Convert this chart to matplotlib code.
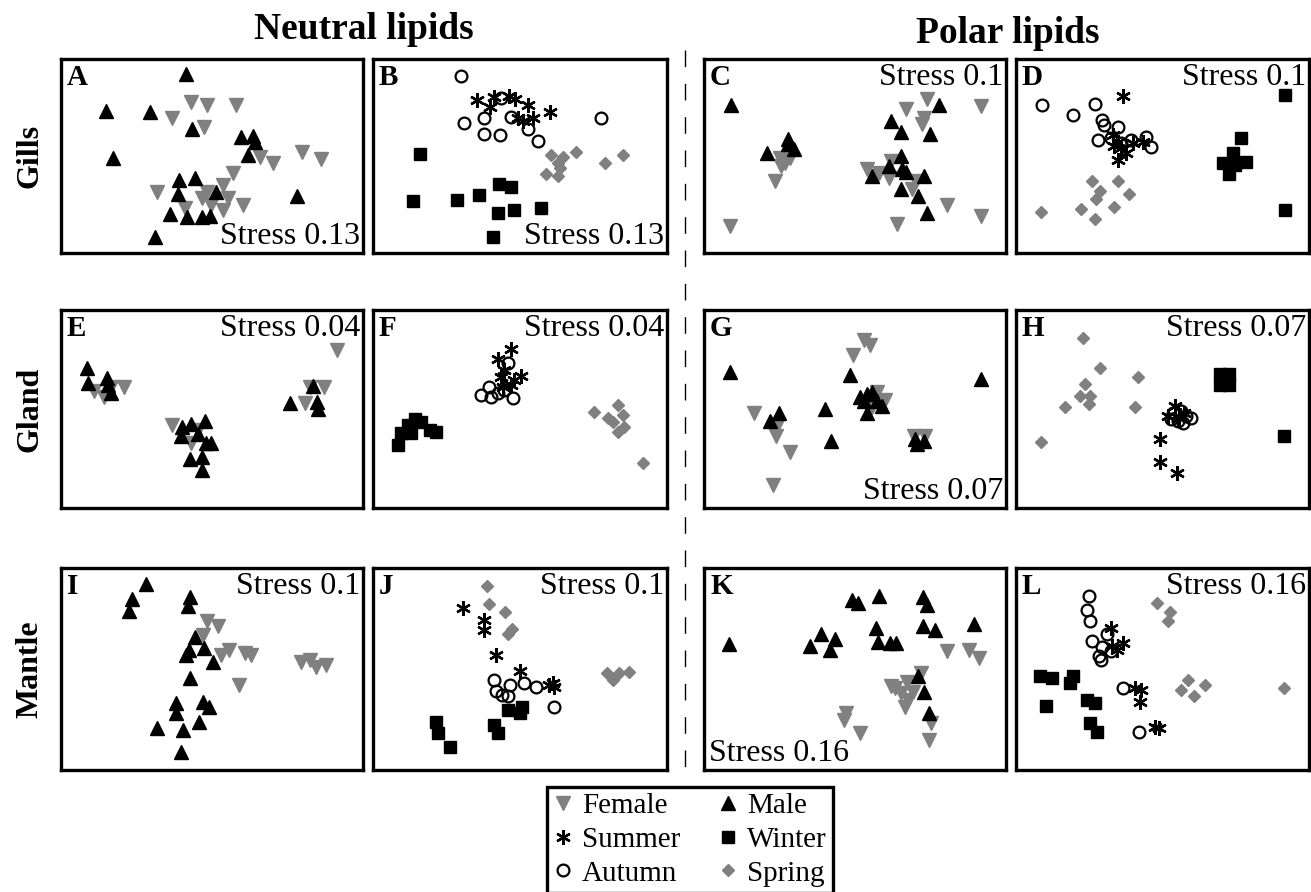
import matplotlib.pyplot as plt
from matplotlib.lines import Line2D

# NMDS scores, arbitrary units (0-100 across each panel)
A_female = [(42.9, 78.0), (48.5, 76.3), (58.0, 76.3), (36.7, 69.5), (47.4, 65.2), (65.8, 49.7),
            (70.3, 46.3), (79.8, 52.3), (86.0, 48.5), (56.9, 41.2), (53.5, 35.2), (31.7, 31.7),
            (48.5, 31.7), (46.8, 28.3), (55.2, 28.3), (49.6, 24.9), (60.2, 24.9), (41.2, 23.2), (53.5, 22.3)]
A_male = [(41.4, 92.1), (14.9, 73.2), (29.5, 72.9), (43.4, 64.0), (59.5, 60.0), (63.6, 60.4),
          (64.4, 57.1), (61.9, 50.6), (17.1, 48.9), (39.0, 37.7), (44.3, 38.6), (38.7, 30.4),
          (51.3, 31.7), (36.2, 20.1), (41.8, 18.4), (46.6, 18.4), (49.3, 18.9), (78.2, 29.5), (31.1, 8.1)]

B_summer = [(35.3, 78.9), (41.0, 80.6), (39.9, 75.5), (46.1, 81.1), (48.3, 79.4), (52.7, 76.3),
            (49.3, 69.5), (51.0, 67.8), (54.4, 69.5), (60.1, 72.9)]
B_autumn = [(30.1, 91.4), (30.8, 66.9), (37.9, 69.5), (37.9, 61.4), (43.3, 60.9), (43.6, 79.8),
            (47.0, 70.3), (52.7, 64.0), (56.1, 57.8), (77.5, 69.5)]
B_winter = [(16.0, 50.9), (13.7, 26.6), (28.5, 27.4), (36.1, 29.7), (42.8, 35.5), (46.8, 33.8),
            (42.4, 20.6), (47.9, 22.3), (57.2, 23.2), (40.7, 8.1)]
B_spring = [(60.7, 50.6), (64.7, 49.7), (68.9, 52.3), (62.9, 46.3), (59.0, 40.7), (62.9, 39.5),
            (63.5, 43.7), (78.9, 46.3), (85.2, 50.6)]

C_female = [(73.8, 79.3), (66.8, 74.1), (72.9, 69.8), (72.3, 66.4), (91.7, 75.9), (25.2, 49.1),
            (26.9, 46.6), (25.5, 44.8), (23.6, 37.1), (28.6, 49.1), (54.0, 43.1), (57.9, 41.4),
            (61.2, 38.8), (61.8, 47.4), (70.1, 37.1), (69.0, 32.8), (80.6, 25.0), (91.7, 19.0),
            (64.0, 14.7), (8.6, 13.8)]
C_male = [(8.9, 76.4), (21.0, 51.7), (27.7, 58.6), (27.7, 56.0), (29.7, 53.4), (61.8, 68.1),
          (65.3, 62.6), (77.9, 76.4), (74.9, 61.2), (65.1, 50.0), (61.2, 44.8), (55.7, 39.7),
          (65.7, 43.1), (66.8, 41.9), (72.9, 39.7), (65.1, 32.8), (70.7, 29.3), (73.8, 20.7)]

D_summer = [(36.4, 80.9), (33.0, 60.9), (34.7, 57.0), (35.9, 53.9), (37.6, 51.3), (34.7, 47.8),
            (39.9, 56.5), (43.3, 57.0), (33.6, 55.3)]
D_autumn = [(8.9, 76.5), (19.4, 71.3), (26.8, 76.9), (29.4, 68.7), (30.2, 66.1), (34.7, 65.2),
            (27.9, 58.3), (32.5, 59.1), (39.3, 58.3), (44.4, 60.0), (46.1, 54.8), (35.9, 56.5)]
D_winter = [(91.7, 81.4), (76.9, 59.1), (74.0, 51.3), (70.8, 46.6), (72.7, 40.9), (78.6, 47.0),
            (74.6, 45.2), (91.7, 22.3)]
D_spring = [(26.0, 36.9), (34.7, 36.9), (28.5, 32.2), (38.5, 30.4), (27.3, 27.8), (22.2, 22.6),
            (33.6, 23.5), (26.8, 17.7), (8.5, 21.2)]

E_female = [(91.4, 79.8), (20.9, 61.3), (10.8, 59.3), (14.1, 55.9), (82.6, 60.9), (87.0, 60.9),
            (80.9, 53.2), (36.6, 41.9), (43.0, 32.7), (45.2, 39.4), (16.5, 61.3)]
E_male = [(8.6, 70.5), (8.8, 63.0), (15.2, 65.5), (16.7, 58.2), (15.4, 62.1), (83.5, 61.6),
          (75.8, 52.9), (84.8, 53.7), (85.0, 49.8), (40.2, 41.1), (43.0, 42.4), (47.6, 44.1),
          (45.2, 37.4), (49.6, 32.7), (39.6, 36.4), (42.7, 24.6), (46.7, 25.6), (46.7, 19.2), (48.0, 32.8)]

F_summer = [(47.0, 80.1), (42.5, 75.1), (44.7, 69.7), (50.2, 66.7), (43.6, 66.3), (48.1, 64.6),
            (47.0, 62.1), (44.2, 61.3)]
F_autumn = [(45.9, 73.1), (36.8, 57.1), (39.6, 61.3), (42.5, 57.9), (47.6, 55.4), (40.2, 56.2), (44.7, 59.6)]
F_winter = [(8.5, 31.8), (9.6, 37.7), (11.9, 41.9), (14.2, 44.8), (16.4, 43.6), (19.3, 39.4),
            (21.5, 38.6), (13.0, 37.7)]
F_spring = [(75.1, 48.7), (83.2, 52.0), (84.9, 47.0), (81.5, 43.6), (85.5, 41.1), (83.2, 38.6),
            (79.8, 45.3), (91.7, 22.6)]

G_female = [(52.9, 84.7), (55.1, 82.5), (49.3, 77.4), (57.3, 58.4), (60.0, 54.7), (55.6, 50.8),
            (16.5, 48.2), (24.4, 42.3), (24.0, 36.3), (28.4, 28.2), (22.7, 11.7), (69.6, 36.3), (73.2, 36.3)]
G_male = [(8.6, 68.9), (48.5, 67.2), (91.6, 65.2), (51.8, 55.9), (54.0, 57.6), (55.6, 58.4),
          (57.3, 54.2), (58.9, 51.6), (52.9, 54.2), (54.0, 48.2), (40.2, 49.9), (24.8, 48.2),
          (21.8, 44.0), (41.9, 33.8), (69.9, 34.6), (72.7, 33.8), (70.5, 32.1)]

H_summer = [(54.1, 51.6), (51.8, 46.5), (55.8, 45.7), (57.5, 48.2), (49.3, 34.6), (49.3, 23.4), (54.8, 17.8)]
H_autumn = [(53.5, 48.2), (56.3, 49.1), (58.0, 46.5), (59.8, 45.7), (55.2, 44.0), (56.9, 42.8), (52.9, 44.8)]
H_winter = [(69.5, 67.5), (72.7, 67.5), (69.5, 62.0), (72.7, 62.0), (71.1, 64.9), (91.5, 36.2)]
H_spring = [(22.9, 85.9), (28.8, 70.6), (41.6, 66.0), (23.5, 62.6), (21.8, 56.7), (24.8, 52.5),
            (25.2, 56.7), (16.7, 50.9), (40.5, 50.9), (8.5, 33.1)]

I_female = [(48.3, 73.6), (51.9, 71.1), (47.0, 66.9), (55.7, 59.5), (53.0, 57.0), (61.0, 57.9),
            (63.0, 57.0), (59.0, 42.1), (79.6, 53.7), (82.3, 54.5), (87.6, 52.1), (84.3, 51.2)]
I_male = [(28.0, 92.2), (23.4, 84.6), (22.4, 78.5), (42.7, 85.6), (42.1, 81.0), (44.3, 65.8),
          (42.3, 59.5), (47.4, 60.3), (41.3, 57.0), (50.3, 53.7), (42.6, 45.5), (38.1, 33.1),
          (38.1, 28.1), (47.0, 33.9), (49.0, 31.4), (31.7, 20.7), (40.3, 19.8), (45.7, 24.0), (39.7, 9.1)]

J_summer = [(30.7, 80.2), (37.8, 74.4), (37.6, 69.4), (41.9, 57.0), (50.1, 48.8), (61.1, 43.3),
            (61.7, 41.3), (59.7, 42.1)]
J_autumn = [(41.3, 44.6), (46.7, 42.1), (51.5, 43.3), (55.6, 41.3), (44.0, 37.2), (46.0, 36.4),
            (61.7, 31.1), (41.9, 39.3)]
J_winter = [(21.4, 24.0), (22.1, 18.2), (26.2, 11.6), (41.3, 22.3), (42.6, 18.2), (46.0, 29.8),
            (50.1, 28.1), (50.8, 31.4)]
J_spring = [(38.9, 91.2), (39.5, 82.3), (44.9, 78.0), (47.4, 69.8), (46.0, 67.4), (79.5, 47.9),
            (83.6, 47.9), (87.0, 48.3), (81.6, 44.6)]

K_female = [(80.3, 58.7), (87.6, 59.5), (91.0, 55.4), (71.7, 47.9), (67.1, 43.8), (63.1, 40.5),
            (65.1, 38.0), (67.7, 34.7), (66.4, 31.4), (46.9, 28.1), (46.5, 24.8), (51.8, 18.2),
            (75.0, 23.1), (74.4, 14.9), (61.8, 41.7), (69.1, 38.8)]
K_male = [(8.4, 62.5), (49.1, 84.0), (50.9, 82.6), (57.8, 86.3), (72.4, 85.6), (73.7, 81.8),
          (38.9, 67.4), (43.4, 64.8), (35.2, 61.2), (41.8, 59.5), (57.1, 70.2), (57.5, 63.6),
          (61.5, 62.8), (63.7, 63.1), (72.6, 71.4), (76.6, 69.4), (89.4, 72.4), (71.0, 46.3),
          (73.0, 38.8), (74.4, 28.1)]

L_summer = [(32.3, 70.2), (36.5, 62.8), (34.4, 59.5), (32.6, 61.5), (40.6, 40.5), (42.6, 39.7),
            (42.2, 33.9), (48.8, 20.7), (47.5, 21.5)]
L_autumn = [(24.8, 86.3), (24.3, 79.0), (25.4, 74.0), (30.9, 67.4), (26.1, 64.1), (29.3, 60.8),
            (28.2, 56.2), (28.9, 54.5), (32.3, 58.7), (36.5, 40.5), (42.0, 19.0)]
L_winter = [(8.3, 46.6), (12.4, 45.5), (19.3, 46.3), (18.6, 43.0), (10.3, 31.7), (24.1, 34.7),
            (26.8, 33.1), (25.4, 23.1), (27.5, 19.0)]
L_spring = [(48.1, 82.6), (52.7, 78.0), (51.9, 74.0), (58.7, 44.6), (64.6, 42.1), (56.4, 39.7),
            (60.9, 36.7), (91.5, 40.8)]

panel_letters = ['A', 'B', 'C', 'D', 'E', 'F', 'G', 'H', 'I', 'J', 'K', 'L']
stress_labels = ['Stress 0.13', 'Stress 0.13', 'Stress 0.1', 'Stress 0.1',
                 'Stress 0.04', 'Stress 0.04', 'Stress 0.07', 'Stress 0.07',
                 'Stress 0.1', 'Stress 0.1', 'Stress 0.16', 'Stress 0.16']
stress_corner = ['br', 'br', 'tr', 'tr', 'tr', 'tr', 'br', 'tr', 'tr', 'tr', 'bl', 'tr']
row_labels = ['Gills', 'Gland', 'Mantle']
col_titles = ['Neutral lipids', 'Polar lipids']

panel_data = [
    {'female': A_female, 'male': A_male},
    {'winter': B_winter, 'spring': B_spring, 'autumn': B_autumn, 'summer': B_summer},
    {'female': C_female, 'male': C_male},
    {'winter': D_winter, 'spring': D_spring, 'autumn': D_autumn, 'summer': D_summer},
    {'female': E_female, 'male': E_male},
    {'winter': F_winter, 'spring': F_spring, 'autumn': F_autumn, 'summer': F_summer},
    {'female': G_female, 'male': G_male},
    {'winter': H_winter, 'spring': H_spring, 'autumn': H_autumn, 'summer': H_summer},
    {'female': I_female, 'male': I_male},
    {'winter': J_winter, 'spring': J_spring, 'autumn': J_autumn, 'summer': J_summer},
    {'female': K_female, 'male': K_male},
    {'winter': L_winter, 'spring': L_spring, 'autumn': L_autumn, 'summer': L_summer},
]

GRAY = '#808080'
ASTERISK = (6, 2, 0)
styles = {
    'female': dict(marker='v', color=GRAY, markersize=10.5),
    'male': dict(marker='^', color='black', markersize=10.5),
    'summer': dict(marker=ASTERISK, color='black', markersize=10.5, markeredgewidth=1.7),
    'winter': dict(marker='s', color='black', markersize=8),
    'autumn': dict(marker='o', color='black', markerfacecolor='none', markersize=8.5, markeredgewidth=1.6),
    'spring': dict(marker='D', color=GRAY, markersize=6.5),
}
legend_names = {'female': 'Female', 'male': 'Male', 'summer': 'Summer',
                'winter': 'Winter', 'autumn': 'Autumn', 'spring': 'Spring'}

SERIF = 'Liberation Serif'
W, H = 1311, 892
col_px = [(61, 363), (373, 667), (704, 1006), (1016, 1309)]
row_px = [(59, 253), (310, 508), (568, 770)]

fig = plt.figure(figsize=(W / 100, H / 100), dpi=100)

for i, data in enumerate(panel_data):
    r, c = divmod(i, 4)
    x0, x1 = col_px[c]
    y0, y1 = row_px[r]
    ax = fig.add_axes([x0 / W, 1 - y1 / H, (x1 - x0) / W, (y1 - y0) / H])
    for key, pts in data.items():
        xs = [p[0] for p in pts]
        ys = [p[1] for p in pts]
        ax.plot(xs, ys, linestyle='none', **styles[key])
    ax.set_xlim(0, 100)
    ax.set_ylim(0, 100)
    ax.set_xticks([])
    ax.set_yticks([])
    for sp in ax.spines.values():
        sp.set_linewidth(2.4)
        sp.set_color('black')

    ax.text(0.02, 0.975, panel_letters[i], transform=ax.transAxes, ha='left', va='top',
            fontsize=21, fontweight='bold', family=SERIF)
    corner = stress_corner[i]
    if corner == 'tr':
        ax.text(0.99, 0.98, stress_labels[i], transform=ax.transAxes, ha='right', va='top',
                fontsize=23, family=SERIF)
    elif corner == 'br':
        ax.text(0.99, 0.01, stress_labels[i], transform=ax.transAxes, ha='right', va='bottom',
                fontsize=23, family=SERIF)
    else:
        ax.text(0.015, 0.01, stress_labels[i], transform=ax.transAxes, ha='left', va='bottom',
                fontsize=23, family=SERIF)

# column titles and row labels
fig.text(364 / W, 1 - 39 / H, col_titles[0], ha='center', va='baseline',
         fontsize=27, fontweight='bold', family=SERIF)
fig.text(1008 / W, 1 - 43 / H, col_titles[1], ha='center', va='baseline',
         fontsize=27, fontweight='bold', family=SERIF)
for r, lab in enumerate(row_labels):
    yc = (row_px[r][0] + row_px[r][1]) / 2
    fig.text(30 / W, 1 - yc / H, lab, ha='center', va='center', rotation=90,
             fontsize=23, fontweight='bold', family=SERIF)

# dashed separator between neutral and polar lipids
fig.add_artist(Line2D([685 / W, 685 / W], [1 - 50 / H, 1 - 782 / H], transform=fig.transFigure,
                      color='black', linewidth=1, linestyle=(0, (12, 12))))

order = ['female', 'summer', 'autumn', 'male', 'winter', 'spring']
handles = [Line2D([], [], linestyle='none', **styles[k]) for k in order]
leg = fig.legend(handles, [legend_names[k] for k in order], ncol=2, loc='upper left',
                 bbox_to_anchor=(547 / W, 1 - 787 / H), borderaxespad=0, frameon=True,
                 fancybox=False, edgecolor='black', framealpha=1, borderpad=0.2,
                 labelspacing=0.25, handlelength=0.7, handletextpad=0.3, columnspacing=1.3,
                 prop={'family': SERIF, 'size': 21})
leg.get_frame().set_linewidth(2.4)

fig.savefig('out.png', dpi=100)
